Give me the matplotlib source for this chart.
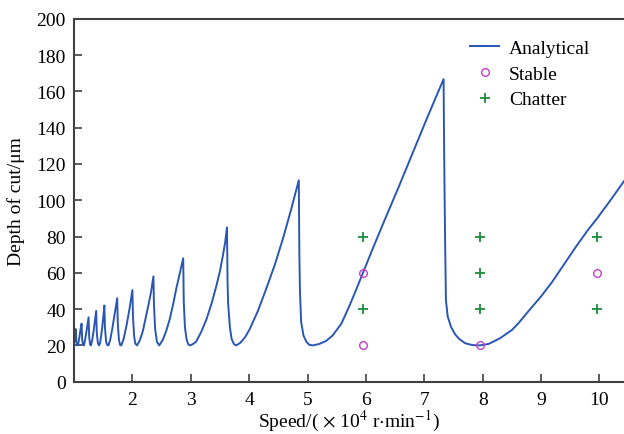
import matplotlib
matplotlib.use("Agg")
import matplotlib.pyplot as plt

# Analytical stability lobes (speed in 1e4 r/min, depth in um)
speed = [1.00, 1.01, 1.02, 1.03,
         1.04, 1.055, 1.07, 1.09, 1.11, 1.13,
         1.14, 1.155, 1.17, 1.19, 1.22, 1.25,
         1.26, 1.275, 1.29, 1.31, 1.34, 1.36, 1.38,
         1.39, 1.41, 1.43, 1.45, 1.48, 1.50, 1.52,
         1.53, 1.55, 1.57, 1.59, 1.62, 1.66, 1.70, 1.74,
         1.75, 1.77, 1.79, 1.81, 1.85, 1.90, 1.95, 2.00,
         2.01, 2.03, 2.05, 2.08, 2.13, 2.18, 2.23, 2.27, 2.32, 2.36,
         2.37, 2.39, 2.42, 2.46, 2.52, 2.58, 2.64, 2.70, 2.75, 2.81, 2.87,
         2.88, 2.90, 2.93, 2.96, 2.99, 3.04, 3.09, 3.18, 3.27, 3.36, 3.44, 3.50, 3.55, 3.59, 3.62,
         3.63, 3.64, 3.67, 3.70, 3.74, 3.78, 3.85, 3.93, 4.01, 4.15, 4.29, 4.44, 4.58, 4.72, 4.85,
         4.86, 4.87, 4.89, 4.93, 4.98, 5.03, 5.09, 5.20, 5.32, 5.43, 5.58, 5.72, 5.83, 5.95,
         6.10, 6.30, 6.57, 6.80, 7.05, 7.33,
         7.34, 7.355, 7.37, 7.40, 7.46, 7.53, 7.60, 7.70, 7.82, 7.95, 8.10, 8.30, 8.50,
         8.62, 8.80, 9.00, 9.19, 9.40, 9.60, 9.80, 9.96, 10.20, 10.42]
depth = [21.0, 23.0, 26.0, 29.0,
         22.0, 20.0, 20.5, 24.0, 28.5, 32.0,
         23.0, 20.2, 20.0, 23.0, 29.0, 35.5,
         25.0, 20.5, 20.0, 22.5, 29.0, 34.0, 39.0,
         27.0, 21.0, 20.0, 22.0, 29.0, 35.0, 42.0,
         30.0, 22.0, 20.2, 20.0, 23.0, 30.0, 38.0, 46.0,
         32.0, 23.0, 20.2, 20.0, 23.5, 31.0, 40.0, 50.5,
         36.0, 25.0, 21.0, 20.0, 23.0, 28.0, 35.5, 41.5, 49.5, 58.0,
         42.0, 29.0, 22.0, 20.0, 23.0, 28.0, 34.5, 43.0, 51.0, 59.5, 68.0,
         44.0, 30.0, 23.0, 20.5, 20.0, 20.8, 22.0, 27.5, 34.5, 43.5, 53.0, 61.0, 69.5, 77.0, 85.0,
         55.0, 43.0, 30.0, 23.5, 20.7, 20.0, 21.5, 24.5, 29.0, 39.0, 51.0, 64.5, 79.0, 95.0, 111.0,
         70.0, 50.0, 33.0, 25.5, 22.0, 20.3, 20.0, 20.8, 22.5, 25.5, 32.0, 42.0, 50.5, 60.0,
         72.0, 87.5, 108.0, 126.0, 145.5, 166.7,
         125.0, 80.0, 45.0, 36.0, 30.0, 26.0, 23.5, 21.2, 20.2, 20.0, 20.8, 24.0, 28.5,
         32.5, 39.5, 47.0, 55.0, 65.0, 74.5, 83.5, 90.0, 100.5, 110.5]

# Cutting tests
stable_speed = [5.95, 5.95, 7.95, 9.95]
stable_depth = [60, 20, 20, 60]
chatter_speed = [5.95, 5.95, 7.95, 7.95, 7.95, 9.95, 9.95]
chatter_depth = [80, 40, 80, 60, 40, 80, 40]

plt.rcParams['font.family'] = ['Liberation Serif', 'DejaVu Serif']
plt.rcParams['mathtext.fontset'] = 'stix'

fig = plt.figure(figsize=(6.24, 4.35), dpi=100)
ax = fig.add_axes([74 / 624, 0.1202, 1 - 74 / 624, 0.8345])

ax.plot(speed, depth, color="#2a56b4", linewidth=1.4, label="Analytical")
ax.plot(stable_speed, stable_depth, linestyle="none", marker="o", markersize=5.5,
        markerfacecolor="none", markeredgecolor="#c040c8", markeredgewidth=1.0, label="Stable")
ax.plot(chatter_speed, chatter_depth, linestyle="none", marker="+", markersize=7,
        color="#1e8a3c", markeredgewidth=1.3, label="Chatter")

ax.set_xlim(1.0, 10.42)
ax.set_ylim(0, 200)
ax.set_xticks(range(2, 11))
ax.set_yticks(range(0, 201, 20))
ax.tick_params(direction="in", length=6, width=1.2, color="#404040", labelsize=14, pad=6)
ax.tick_params(axis="x", top=False, pad=7)

for side in ("left", "bottom", "top"):
    ax.spines[side].set_linewidth(1.5)
    ax.spines[side].set_color("#404040")
ax.spines["right"].set_visible(False)

ax.set_xlabel(r"Speed/( $\times$ 10$^4$ r$\cdot$min$^{-1}$)", fontsize=14, labelpad=0)
ax.set_ylabel(r"Depth of cut/μm", fontsize=14, labelpad=8)

ax.legend(loc="upper right", bbox_to_anchor=(0.953, 0.965), frameon=False, fontsize=14,
          handlelength=1.5, handletextpad=0.5, labelspacing=0.42, borderaxespad=0.0)

plt.savefig("out.png", dpi=100)
